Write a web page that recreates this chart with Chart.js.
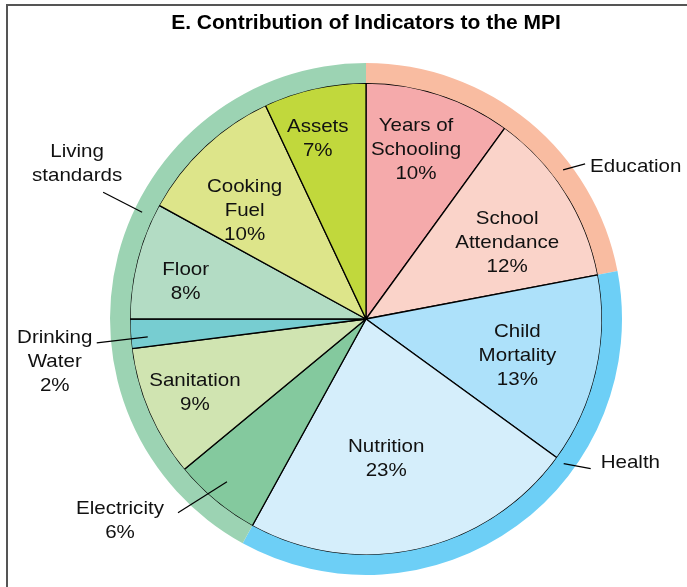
<!DOCTYPE html>
<html>
<head>
<meta charset="utf-8">
<script src="https://cdn.jsdelivr.net/npm/chart.js@4.4.1/dist/chart.umd.min.js"></script>
<style>
  html, body { margin: 0; padding: 0; background: #fff; }
  #wrap { position: relative; width: 687px; height: 587px; overflow: hidden; }
  #frame { position: absolute; left: 6px; top: 4px; width: 700px; height: 600px;
           border-left: 2px solid #555; border-top: 2px solid #555; }
  canvas { position: absolute; left: 0; top: 0; }
</style>
</head>
<body>
<div id="wrap">
  <div id="frame"></div>
  <canvas id="chart" width="687" height="587"></canvas>
</div>
<script>
const chartTitle = 'E. Contribution of Indicators to the MPI';

// inner pie: indicators, clockwise from 12 o'clock
const indicators = ['Years of Schooling', 'School Attendance', 'Child Mortality', 'Nutrition',
  'Electricity', 'Sanitation', 'Drinking Water', 'Floor', 'Cooking Fuel', 'Assets'];
const contributions = [10, 12, 13, 23, 6, 9, 2, 8, 10, 7];
const indicatorColors = ['#f5aaab', '#fad3c9', '#ade1fa', '#d5eefb',
  '#84c99e', '#d0e4b1', '#77cdd1', '#b3dcc4', '#dde58a', '#c1d83c'];

// outer ring: dimensions
const dimensions = ['Education', 'Health', 'Living standards'];
const dimensionShares = [22, 36, 42];
const dimensionColors = ['#f9bca1', '#6dcff6', '#9cd3b3'];

// label text (lines) for the indicator slices drawn inside the pie
const insideLabels = {
  0: ['Years of', 'Schooling'],
  1: ['School', 'Attendance'],
  2: ['Child', 'Mortality'],
  3: ['Nutrition'],
  5: ['Sanitation'],
  7: ['Floor'],
  8: ['Cooking', 'Fuel'],
  9: ['Assets']
};
// placement tweaks: radius fraction and angle shift (deg)
const insidePlace = {
  0: [0.746, -1.5], 1: [0.68, 4], 2: [0.66, 1], 3: [0.60, 4.4],
  5: [0.79, 0], 7: [0.78, -2.8], 8: [0.69, -5], 9: [0.79, -2.4]
};

// callouts outside: anchor angle (deg from top), anchor radius fraction, leader end, text pos
const callouts = [
  { lines: ['Education'], ang: 52.9, rf: 1.047, end: [22, -6], text: [27, -3], align: 'left' },
  { lines: ['Health'], ang: 126.2, rf: 1.038, end: [27, 5], text: [37, -1], align: 'left' },
  { lines: ['Living', 'standards'], ang: 295.5, rf: 1.051, end: [-39, -20], text: [-65, -60], align: 'center' },
  { lines: ['Drinking', 'Water', pct(6)], ang: 265.3, rf: 0.928, end: [-51, 6], text: [-93, 1], align: 'center' },
  { lines: ['Electricity', pct(4)], ang: 220.5, rf: 0.907, end: [-49, 31], text: [-107, 27], align: 'center' }
];

function pct(i) { return contributions[i] + '%'; }

const FONT = '18.5px "Liberation Sans", Arial, sans-serif';
const SX = 1.11;
const LINE = 24;

function drawText(ctx, str, x, y, align) {
  ctx.save();
  ctx.translate(x, y);
  ctx.scale(SX, 1);
  ctx.textAlign = align;
  ctx.textBaseline = 'middle';
  ctx.fillText(str, 0, 0);
  ctx.restore();
}

const labelPlugin = {
  id: 'mpiLabels',
  afterDatasetsDraw(chart) {
    const ctx = chart.ctx;
    const meta = chart.getDatasetMeta(1);
    const first = meta.data[0];
    const cx = first.x, cy = first.y, R = first.outerRadius;
    ctx.save();
    ctx.fillStyle = '#111';
    ctx.font = FONT;

    // inside labels
    meta.data.forEach((arc, i) => {
      if (!insideLabels[i]) return;
      const [rf, da] = insidePlace[i];
      const mid = (arc.startAngle + arc.endAngle) / 2 + da * Math.PI / 180;
      const x = cx + R * rf * Math.cos(mid);
      const y = cy + R * rf * Math.sin(mid);
      const lines = insideLabels[i].concat([pct(i)]);
      const top = y - (lines.length - 1) * LINE / 2;
      lines.forEach((l, k) => drawText(ctx, l, x, top + k * LINE, 'center'));
    });

    // callouts with leader lines
    ctx.strokeStyle = '#000';
    ctx.lineWidth = 1.2;
    callouts.forEach(c => {
      const a = (c.ang - 90) * Math.PI / 180;
      const ax = cx + R * c.rf * Math.cos(a);
      const ay = cy + R * c.rf * Math.sin(a);
      ctx.beginPath();
      ctx.moveTo(ax, ay);
      ctx.lineTo(ax + c.end[0], ay + c.end[1]);
      ctx.stroke();
      c.lines.forEach((l, k) => drawText(ctx, l, ax + c.text[0], ay + c.text[1] + k * LINE, c.align));
    });

    // title
    ctx.font = 'bold 21px "Liberation Sans", Arial, sans-serif';
    ctx.fillStyle = '#000';
    ctx.textAlign = 'center';
    ctx.textBaseline = 'middle';
    ctx.fillText(chartTitle, cx, 23);
    ctx.restore();
  }
};

new Chart(document.getElementById('chart'), {
  type: 'pie',
  data: {
    labels: indicators,
    datasets: [
      {
        label: 'Dimension',
        data: dimensionShares,
        backgroundColor: dimensionColors,
        borderWidth: 0,
        hoverBorderWidth: 0,
        hoverOffset: 0,
        weight: 20
      },
      {
        label: 'Indicator',
        data: contributions,
        backgroundColor: indicatorColors,
        borderColor: '#000',
        borderWidth: 1.3,
        hoverOffset: 0,
        weight: 236
      }
    ]
  },
  options: {
    responsive: false,
    animation: false,
    events: [],
    devicePixelRatio: 1,
    layout: { padding: { left: 110, right: 65, top: 63, bottom: 12 } },
    plugins: {
      legend: { display: false },
      tooltip: { enabled: false },
      title: { display: false }
    }
  },
  plugins: [labelPlugin]
});
</script>
</body>
</html>
